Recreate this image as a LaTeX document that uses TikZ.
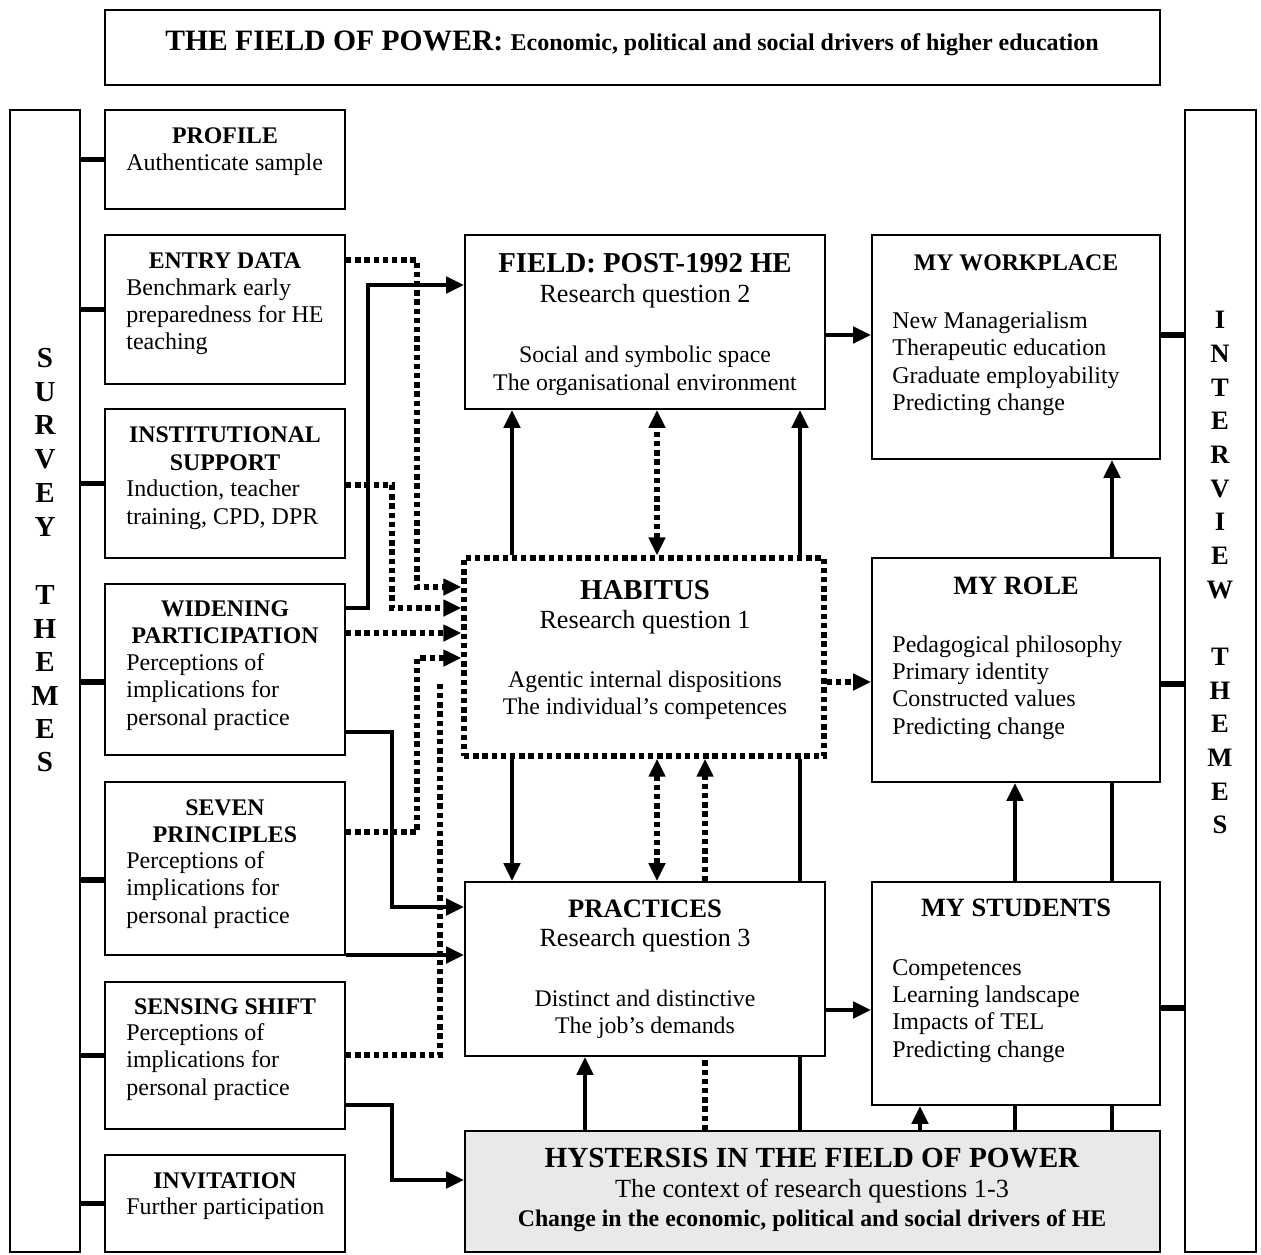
\documentclass[tikz,border=0pt]{standalone}
\usepackage{fontspec}
\setmainfont{Liberation Serif}
\usetikzlibrary{arrows.meta,fit}

\definecolor{hystgray}{gray}{0.915}

% one node per line: name, style, x, first baseline y, line step, list of lines
\newcommand\textstack[6]{%
  \foreach \linetext [count=\k] in {#6}{%
    \node[#2] (#1-\k) at ({#3},{#4+#5*(\k-1)}) {\linetext};}}

\begin{document}
\begin{tikzpicture}[x=0.5pt,y=-0.5pt,
  >={Triangle[length=9pt,width=8pt]},
  frame/.style={draw, line width=0.9pt, inner sep=0pt, fill=white},
  dotframe/.style={draw, line width=2.7pt, dash pattern=on 2.7pt off 1.9pt, inner sep=0pt, fill=white},
  solidline/.style={line width=2.4pt},
  solidarrow/.style={solidline, ->},
  dotline/.style={line width=2.7pt, dash pattern=on 2.7pt off 1.9pt},
  dotarrow/.style={dotline, ->},
  dotboth/.style={dotline, <->},
  stub/.style={line width=2.6pt},
  ltitle/.style={font=\fontsize{11.9}{14}\selectfont\bfseries, anchor=base, inner sep=0pt},
  lbody/.style={font=\fontsize{12}{14}\selectfont, anchor=base west, inner sep=0pt},
  rtitle/.style={font=\fontsize{13.2}{15}\selectfont\bfseries, anchor=base, inner sep=0pt},
  bigtitle/.style={font=\fontsize{14.4}{16}\selectfont\bfseries, anchor=base, inner sep=0pt},
  question/.style={font=\fontsize{13.1}{15}\selectfont, anchor=base, inner sep=0pt},
  cbody/.style={font=\fontsize{11.9}{14}\selectfont, anchor=base, inner sep=0pt},
  lthemes/.style={font=\fontsize{14.5}{16}\selectfont\bfseries, inner sep=0pt},
  rthemes/.style={font=\fontsize{13.3}{15}\selectfont\bfseries, inner sep=0pt}
]
\useasboundingbox (0,0) rectangle (1261,1254);

% ---------- frames ----------
\node[frame, fit={(105,10)(1160,85)}] (power) {};
\node[frame, fit={(10,110)(80,1252)}] (survey) {};
\node[frame, fit={(1185,110)(1256,1252)}] (interview) {};
\node[frame, fit={(105,110)(345,209)}] (profile) {};
\node[frame, fit={(105,235)(345,384)}] (entry) {};
\node[frame, fit={(105,409)(345,558)}] (support) {};
\node[frame, fit={(105,584)(345,755)}] (widening) {};
\node[frame, fit={(105,782)(345,955)}] (seven) {};
\node[frame, fit={(105,982)(345,1129)}] (sensing) {};
\node[frame, fit={(105,1155)(345,1252)}] (invitation) {};
\node[frame, fit={(465,235)(825,409)}] (field) {};
\node[dotframe, fit={(464,558)(824,756)}] (habitus) {};
\node[frame, fit={(465,882)(825,1056)}] (practices) {};
\node[frame, fill=hystgray, fit={(465,1131)(1160,1252)}] (hysteresis) {};
\node[frame, fit={(872,235)(1160,459)}] (workplace) {};
\node[frame, fit={(872,558)(1160,782)}] (role) {};
\node[frame, fit={(872,882)(1160,1105)}] (students) {};

% ---------- stubs to the theme columns ----------
\draw[stub] (survey.east |- profile.west) -- (profile.west);
\draw[stub] (survey.east |- entry.west) -- (entry.west);
\draw[stub] (survey.east |- support.west) -- (support.west);
\draw[stub] (survey.east |- 0,682) -- (widening.west |- 0,682);
\draw[stub] (survey.east |- 0,880) -- (seven.west |- 0,880);
\draw[stub] (survey.east |- sensing.west) -- (sensing.west);
\draw[stub] (survey.east |- invitation.west) -- (invitation.west);
\draw[stub] (workplace.east |- 0,335) -- (interview.west |- 0,335);
\draw[stub] (role.east |- 0,684) -- (interview.west |- 0,684);
\draw[stub] (students.east |- 0,1008) -- (interview.west |- 0,1008);

% ---------- survey themes into the centre ----------
\draw[dotarrow] (entry.east |- 0,260) -| (417,587) -- (habitus.west |- 0,587);
\draw[dotarrow] (support.east |- 0,485) -| (392,608) -- (habitus.west |- 0,608);
\draw[dotarrow] (widening.east |- 0,633) -- (habitus.west |- 0,633);
\draw[solidarrow] (widening.east |- 0,608) -| (368,285) -- (field.west |- 0,285);
\draw[solidarrow] (widening.east |- 0,732) -| (392,907) -- (practices.west |- 0,907);
\draw[dotarrow] (seven.east |- 0,832) -| (417,658) -- (habitus.west |- 0,658);
\draw[solidarrow] (seven.east |- 0,955) -- (practices.west |- 0,955);
\coordinate (sensingend) at (440,683);
\draw[dotline] (sensing.east |- 0,1055) -| (sensingend);
\draw[solidarrow] (sensing.east |- 0,1105) -| (392,1180) -- (hysteresis.west |- 0,1180);

% ---------- centre column ----------
\draw[solidarrow] (habitus.north -| 512,0) -- (field.south -| 512,0);
\draw[dotboth] (habitus.north -| 657,0) -- (field.south -| 657,0);
\draw[solidarrow] (habitus.north -| 800,0) -- (field.south -| 800,0);
\draw[solidarrow] (habitus.south -| 512,0) -- (practices.north -| 512,0);
\draw[dotboth] (habitus.south -| 657,0) -- (practices.north -| 657,0);
\draw[dotarrow] (practices.north -| 705,0) -- (habitus.south -| 705,0);
\draw[solidline] (practices.north -| 800,0) -- (habitus.south -| 800,0);
\draw[solidarrow] (hysteresis.north -| 585,0) -- (practices.south -| 585,0);
\draw[dotline] (hysteresis.north -| 705,0) -- (practices.south -| 705,0);
\draw[solidline] (hysteresis.north -| 800,0) -- (practices.south -| 800,0);

% ---------- centre to interview side ----------
\draw[solidarrow] (field.east |- 0,335) -- (workplace.west |- 0,335);
\draw[dotarrow] (habitus.east |- 0,682) -- (role.west |- 0,682);
\draw[solidarrow] (practices.east |- 0,1010) -- (students.west |- 0,1010);

% ---------- right column ----------
\draw[solidarrow] (role.north -| 1112,0) -- (workplace.south -| 1112,0);
\draw[solidline] (students.north -| 1112,0) -- (role.south -| 1112,0);
\draw[solidarrow] (students.north -| 1015,0) -- (role.south -| 1015,0);
\draw[solidarrow] (hysteresis.north -| 920,0) -- (students.south -| 920,0);
\draw[solidline] (hysteresis.north -| 1015,0) -- (students.south -| 1015,0);
\draw[solidline] (hysteresis.north -| 1112,0) -- (students.south -| 1112,0);

% ---------- texts ----------
\node[anchor=base, inner sep=0pt] (power-t) at (632,50)
  {\fontsize{14.8}{16}\selectfont\bfseries THE FIELD OF POWER: \fontsize{12}{14}\selectfont Economic, political and social drivers of higher education};

\textstack{sv}{lthemes}{45}{358}{33.7}{S,U,R,V,E,Y}
\textstack{st}{lthemes}{45}{595}{33.5}{T,H,E,M,E,S}
\textstack{iv}{rthemes}{1220}{320}{33.7}{I,N,T,E,R,V,I,E,W}
\textstack{it}{rthemes}{1220}{657}{33.6}{T,H,E,M,E,S}

\node[ltitle] (profile-t) at (225,143) {PROFILE};
\textstack{profile-b}{lbody}{126}{170}{27.5}{Authenticate sample}

\node[ltitle] (entry-t) at (225,268) {ENTRY DATA};
\textstack{entry-b}{lbody}{126}{295}{27.3}{Benchmark early, preparedness for HE, teaching}

\textstack{support-t}{ltitle}{225}{442}{28}{INSTITUTIONAL, SUPPORT}
\textstack{support-b}{lbody}{126}{496}{28}{{Induction, teacher}, {training, CPD, DPR}}

\textstack{widening-t}{ltitle}{225}{616}{27.5}{WIDENING, PARTICIPATION}
\textstack{widening-b}{lbody}{126}{670}{27.5}{Perceptions of, implications for, personal practice}

\textstack{seven-t}{ltitle}{225}{815}{27.5}{SEVEN, PRINCIPLES}
\textstack{seven-b}{lbody}{126}{868}{27.5}{Perceptions of, implications for, personal practice}

\node[ltitle] (sensing-t) at (225,1014) {SENSING SHIFT};
\textstack{sensing-b}{lbody}{126}{1040}{27.5}{Perceptions of, implications for, personal practice}

\node[ltitle] (invitation-t) at (225,1188) {INVITATION};
\textstack{invitation-b}{lbody}{126}{1214}{27.5}{Further participation}

\node[bigtitle] (field-t) at (645,272) {FIELD: POST-1992 HE};
\node[question] (field-q) at (645,302) {Research question 2};
\textstack{field-b}{cbody}{645}{362}{28}{Social and symbolic space, The organisational environment}

\node[bigtitle] (habitus-t) at (645,599) {HABITUS};
\node[question] (habitus-q) at (645,628) {Research question 1};
\textstack{habitus-b}{cbody}{645}{687}{27.3}{Agentic internal dispositions, The individual's competences}

\node[bigtitle, font=\fontsize{13.3}{15}\selectfont\bfseries] (practices-t) at (645,917) {PRACTICES};
\node[question] (practices-q) at (645,946) {Research question 3};
\textstack{practices-b}{cbody}{645}{1006}{27}{Distinct and distinctive, The job's demands}

\node[bigtitle, font=\fontsize{14.6}{16}\selectfont\bfseries] (hysteresis-t) at (812,1167) {HYSTERSIS IN THE FIELD OF POWER};
\node[question] (hysteresis-q) at (812,1197) {The context of research questions 1-3};
\node[cbody, font=\fontsize{11.9}{14}\selectfont\bfseries] (hysteresis-b) at (812,1226) {Change in the economic, political and social drivers of HE};

\node[ltitle] (workplace-t) at (1016,270) {MY WORKPLACE};
\textstack{workplace-b}{lbody}{892}{328}{27.5}{New Managerialism, Therapeutic education, Graduate employability, Predicting change}

\node[rtitle] (role-t) at (1016,594) {MY ROLE};
\textstack{role-b}{lbody}{892}{652}{27.4}{Pedagogical philosophy, Primary identity, Constructed values, Predicting change}

\node[rtitle] (students-t) at (1016,916) {MY STUDENTS};
\textstack{students-b}{lbody}{892}{975}{27.4}{Competences, Learning landscape, Impacts of TEL, Predicting change}

\end{tikzpicture}
\end{document}
